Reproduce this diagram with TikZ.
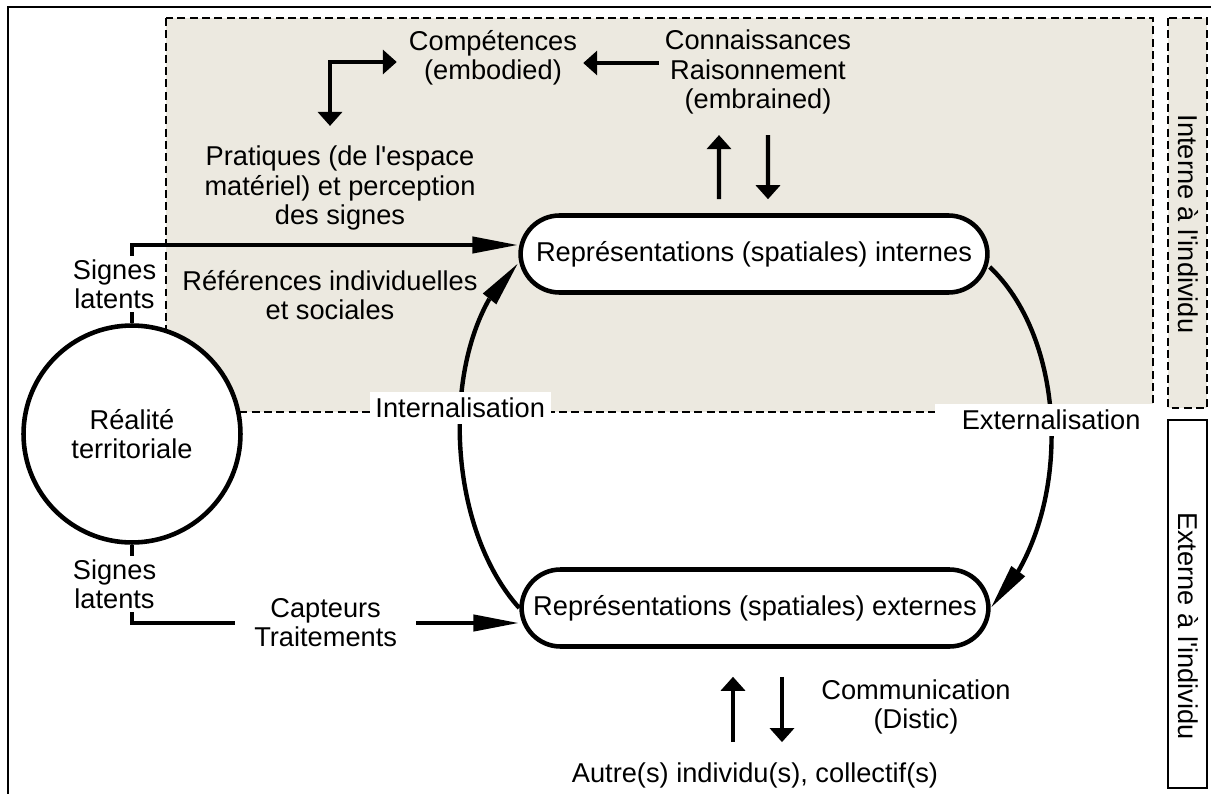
\documentclass[tikz,border=0pt]{standalone}
\usepackage{fontspec}
\setmainfont{Liberation Sans}[Ligatures=TeXOff]
\usetikzlibrary{arrows.meta,bending,calc}
\definecolor{beige}{RGB}{236,233,224}

\begin{document}
\begin{tikzpicture}[x=0.02cm,y=-0.02cm,
  every node/.style={font=\fontsize{15.5}{16.6}\selectfont, align=center},
  repr/.style={draw, line width=2.6pt, rounded corners=0.78cm, fill=white, minimum width=9.34cm, minimum height=1.54cm, inner sep=0pt},
  zone/.style={line width=0.6pt, dash pattern=on 4.5pt off 2.5pt, fill=beige},
  longtip/.style={line width=2.5pt, -{Triangle[length=0.92cm,width=0.32cm]}},
  shorttip/.style={line width=2.5pt, -{Triangle[length=0.28cm,width=0.48cm]}},
  elbow/.style={line width=2.5pt, {Triangle[length=0.28cm,width=0.48cm]}-{Triangle[length=0.28cm,width=0.48cm]}},
  pad/.style={fill=white, inner sep=2pt},
  lbl/.style={fill=white}]
\useasboundingbox (0,0) rectangle (1211,794);
\clip (0,0) rectangle (1211,794);
\draw[line width=1.1pt] (8,7) rectangle (1240,830);
\draw[zone] (166,18) rectangle (1153,412);
\draw[zone] (1168,18) rectangle (1207,408);
\draw[line width=0.8pt] (1168,420) rectangle (1207,788);
\node[rotate=-90] (interne) at (1188,224) {Interne à l'individu};
\node[rotate=-90] (externe) at (1188,626) {Externe à l'individu};

\node[repr] (int) at (754,254) {Représentations (spatiales) internes};
\node[repr] (ext) at (755,608) {Représentations (spatiales) externes};
\node[circle, draw, line width=2.6pt, fill=white, minimum size=4.34cm, inner sep=0pt] (rt) at (132,434) {Réalité\\territoriale};

\node (comp) at (493,58) {Compétences\\(embodied)};
\node (conn) at (758,72) {Connaissances\\Raisonnement\\(embrained)};
\node (prat) at (340,188) {Pratiques (de l'espace\\matériel) et perception\\des signes};
\node (ref) at (330,295) {Références individuelles\\et sociales};
\node (comm) at (916,707) {Communication\\(Distic)};
\node (autre) at (755,775) {Autre(s) individu(s), collectif(s)};

\draw[shorttip] ($(conn.west)+(0,-9)$) -- ($(comp.east)+(0,5)$);
\draw[elbow] ($(prat.north)+(-10,-14)$) |- ($(comp.west)+(-6,4)$);
\draw[shorttip, shorten <=0.28cm, shorten >=0.3cm] ([xshift=-0.7cm]int.north) -- ([xshift=-0.78cm]conn.south);
\draw[shorttip, shorten <=0.3cm, shorten >=0.28cm] ([xshift=0.2cm]conn.south) -- ([xshift=0.28cm]int.north);
\draw[shorttip, shorten <=0.28cm, shorten >=0.56cm] ([xshift=-0.44cm]autre.north) -- ([xshift=-0.44cm]ext.south);
\draw[shorttip, shorten <=0.56cm, shorten >=0.28cm] ([xshift=0.54cm]ext.south) -- ([xshift=0.54cm]autre.north);

\draw[longtip] (rt.north) |- node[pos=0.25, pad, xshift=-0.35cm] {Signes\\latents} ($(int.west)+(0,-9)$);
\draw[longtip] (rt.south) |- node[pos=0.25, pad, xshift=-0.35cm] {Signes\\latents} node[pos=0.75, fill=white, inner xsep=11pt] (capt) {Capteurs\\Traitements} ($(ext.west)+(0,15)$);

\draw[longtip] (ext.west) .. controls (440,520) and (440,330) .. node[pos=0.55, lbl] {Internalisation} ($(int.west)+(0,9)$);
\draw[longtip] ($(int.east)+(0,13)$) .. controls (1072,345) and (1072,525) .. node[pos=0.46, lbl, inner xsep=15pt] {Externalisation} (ext.east);
\end{tikzpicture}
\end{document}
